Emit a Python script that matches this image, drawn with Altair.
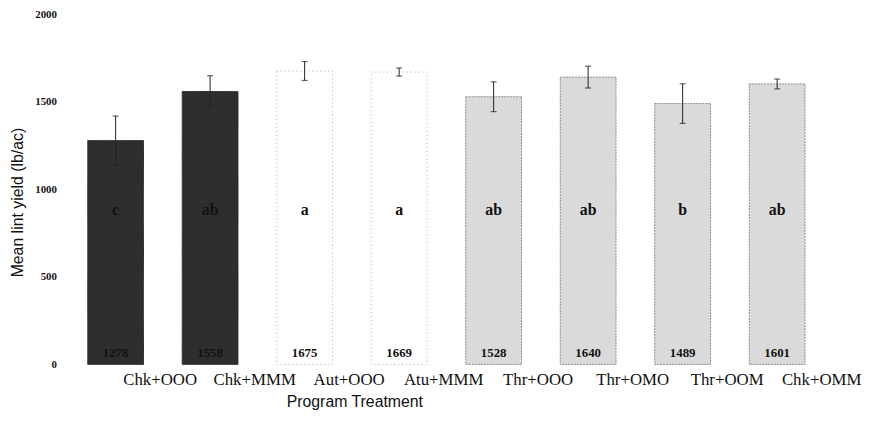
import altair as alt
import pandas as pd

treatments = ["Chk+OOO", "Chk+MMM", "Aut+OOO", "Atu+MMM", "Thr+OOO", "Thr+OMO", "Thr+OOM", "Chk+OMM"]
means = [1278, 1558, 1675, 1669, 1528, 1640, 1489, 1601]
errors = [140, 90, 54, 23, 85, 62, 113, 28]
letters = ["c", "ab", "a", "a", "ab", "ab", "b", "ab"]
groups = ["dark", "dark", "white", "white", "light", "light", "light", "light"]

df = pd.DataFrame({
    "treatment": treatments,
    "mean": means,
    "err": errors,
    "letter": letters,
    "group": groups,
})
df["lo"] = df["mean"] - df["err"]
df["hi"] = df["mean"] + df["err"]
df["label"] = df["mean"].astype(str)
df["letter_y"] = 880
df["label_y"] = 65

xenc = alt.X("treatment:N", sort=treatments,
             scale=alt.Scale(paddingInner=0.41, paddingOuter=0.205),
             axis=alt.Axis(title="Program Treatment", labelAngle=0, labelOffset=45,
                           labelFont="Liberation Serif", labelFontSize=17, labelColor="#111",
                           labelPadding=7, domain=False, ticks=False,
                           titleFont="Liberation Sans", titleFontSize=16, titleFontWeight="normal",
                           titleX=289, titleY=30, titleBaseline="top", titleColor="#111"))
yscale = alt.Scale(domain=[0, 2000], nice=False)

grp_dom = ["dark", "white", "light"]
bars = alt.Chart(df).mark_bar(strokeWidth=1).encode(
    x=xenc,
    y=alt.Y("mean:Q", scale=yscale,
            axis=alt.Axis(title="Mean lint yield (lb/ac)", values=[0, 500, 1000, 1500, 2000],
                          format="d", grid=False, domain=False, ticks=False,
                          labelFont="Liberation Serif", labelFontWeight="bold", labelFontSize=11,
                          labelColor="#111", labelPadding=12,
                          titleFont="Liberation Sans", titleFontSize=16, titleFontWeight="normal",
                          titleX=-59, titleY=190, titleAlign="center", titleBaseline="top",
                          titleColor="#111")),
    fill=alt.Color("group:N", scale=alt.Scale(domain=grp_dom,
                                              range=["#2e2e2e", "#ffffff", "#dadada"]), legend=None),
    stroke=alt.Color("group:N", scale=alt.Scale(domain=grp_dom,
                                                range=["#2e2e2e", "#b0b0b0", "#8a8a8a"]), legend=None),
    strokeDash=alt.StrokeDash("group:N", scale=alt.Scale(domain=grp_dom,
                                                         range=[[1, 0], [1, 3], [2, 1]]), legend=None),
)

rules = alt.Chart(df).mark_rule(color="#222", strokeWidth=1).encode(
    x=alt.X("treatment:N", sort=treatments), y=alt.Y("lo:Q", scale=yscale), y2="hi:Q")
caps_hi = alt.Chart(df).mark_tick(color="#222", size=6, thickness=1.2, orient="horizontal").encode(
    x=alt.X("treatment:N", sort=treatments), y=alt.Y("hi:Q", scale=yscale))
caps_lo = alt.Chart(df).mark_tick(color="#222", size=6, thickness=1.2, orient="horizontal").encode(
    x=alt.X("treatment:N", sort=treatments), y=alt.Y("lo:Q", scale=yscale))

letter_text = alt.Chart(df).mark_text(font="Liberation Serif", fontWeight="bold", fontSize=16,
                                      color="#111", baseline="middle").encode(
    x=alt.X("treatment:N", sort=treatments), y=alt.Y("letter_y:Q", scale=yscale), text="letter:N")
value_text = alt.Chart(df).mark_text(font="Liberation Serif", fontWeight="bold", fontSize=13,
                                     color="#111", baseline="middle").encode(
    x=alt.X("treatment:N", sort=treatments), y=alt.Y("label_y:Q", scale=yscale), text="label:N")

chart = alt.layer(bars, rules, caps_hi, caps_lo, letter_text, value_text).properties(
    width=764, height=354,
    autosize=alt.AutoSizeParams(type="none"),
    padding={"left": 61, "top": 4, "right": 38, "bottom": 48},
).configure(background="white").configure_view(strokeWidth=0)

chart.save("out.html", embed_options={"renderer": "svg", "actions": False})
